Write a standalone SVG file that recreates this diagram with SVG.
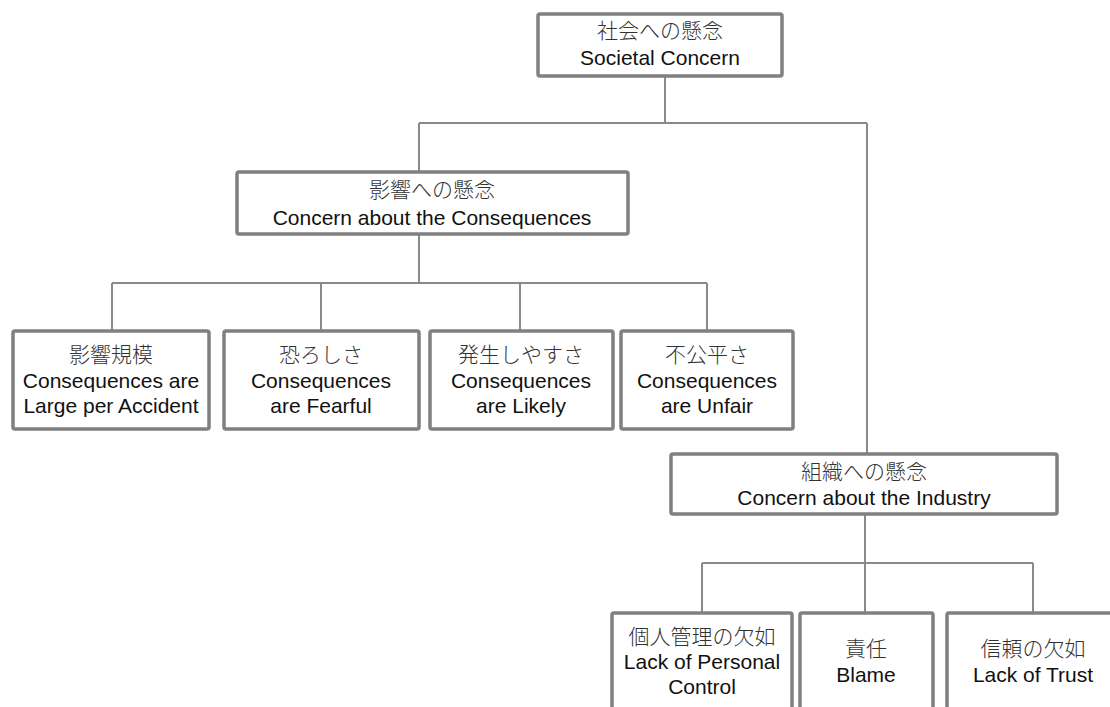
<svg xmlns="http://www.w3.org/2000/svg" width="1110" height="707" viewBox="0 0 1110 707">
<style>
.box{fill:#fff;stroke:#808080;stroke-width:3.5}
.ln{fill:none;stroke:#8a8a8a;stroke-width:2}
.jp{font-family:"Noto Sans CJK JP","Liberation Sans",sans-serif;font-size:21px;font-weight:300;fill:#333;text-anchor:middle}
.en{font-family:"Liberation Sans",Arial,sans-serif;font-size:21px;fill:#111;text-anchor:middle}
</style>
<rect width="1110" height="707" fill="#fff"/>
<g id="connectors">
<path class="ln" d="M665 76V123M419 123H867M419 123V171M867 123V453"/>
<path class="ln" d="M419 234V283M112 283H707M112 283V331M321 283V331M520 283V331M707 283V331"/>
<path class="ln" d="M865 514V563M702 563H1033M702 563V612M865 563V612M1033 563V612"/>
</g>
<g id="societal">
<rect class="box" x="538" y="14" width="244" height="62" rx="2"/>
<text class="jp" x="660" y="38">社会への懸念</text>
<text class="en" x="660" y="65">Societal Concern</text>
</g>
<g id="consequences">
<rect class="box" x="237" y="172" width="391" height="62" rx="2"/>
<text class="jp" x="432" y="197">影響への懸念</text>
<text class="en" x="432" y="225">Concern about the Consequences</text>
</g>
<g id="large">
<rect class="box" x="13" y="331" width="196" height="98" rx="2"/>
<text class="jp" x="111" y="362">影響規模</text>
<text class="en" x="111" y="388">Consequences are</text>
<text class="en" x="111" y="413">Large per Accident</text>
</g>
<g id="fearful">
<rect class="box" x="224" y="331" width="195" height="98" rx="2"/>
<text class="jp" x="321" y="362">恐ろしさ</text>
<text class="en" x="321" y="388">Consequences</text>
<text class="en" x="321" y="413">are Fearful</text>
</g>
<g id="likely">
<rect class="box" x="430" y="331" width="183" height="98" rx="2"/>
<text class="jp" x="521" y="362">発生しやすさ</text>
<text class="en" x="521" y="388">Consequences</text>
<text class="en" x="521" y="413">are Likely</text>
</g>
<g id="unfair">
<rect class="box" x="621" y="331" width="172" height="98" rx="2"/>
<text class="jp" x="707" y="362">不公平さ</text>
<text class="en" x="707" y="388">Consequences</text>
<text class="en" x="707" y="413">are Unfair</text>
</g>
<g id="industry">
<rect class="box" x="671" y="454" width="386" height="60" rx="2"/>
<text class="jp" x="864" y="479">組織への懸念</text>
<text class="en" x="864" y="505">Concern about the Industry</text>
</g>
<g id="control">
<rect class="box" x="612" y="613" width="180" height="110" rx="2"/>
<text class="jp" x="702" y="644">個人管理の欠如</text>
<text class="en" x="702" y="669">Lack of Personal</text>
<text class="en" x="702" y="694">Control</text>
</g>
<g id="blame">
<rect class="box" x="800" y="613" width="133" height="110" rx="2"/>
<text class="jp" x="866" y="656">責任</text>
<text class="en" x="866" y="682">Blame</text>
</g>
<g id="trust">
<rect class="box" x="947" y="613" width="180" height="110" rx="2"/>
<text class="jp" x="1033" y="656">信頼の欠如</text>
<text class="en" x="1033" y="682">Lack of Trust</text>
</g>
</svg>
